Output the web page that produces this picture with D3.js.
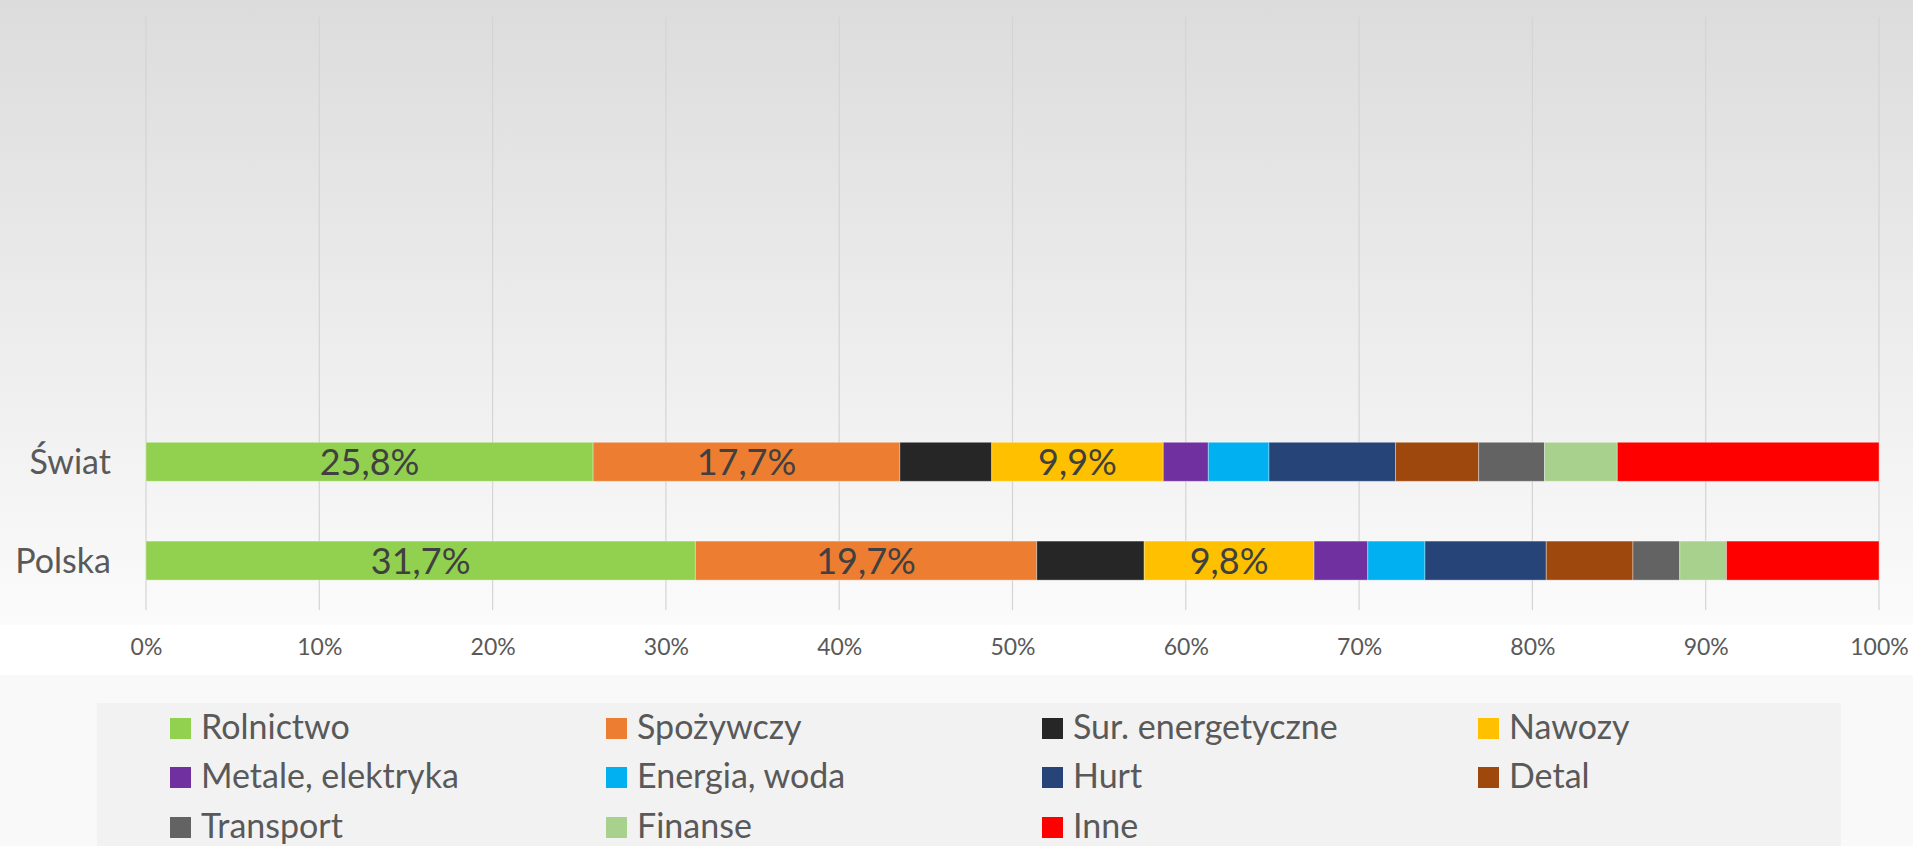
<!DOCTYPE html>
<html>
<head>
<meta charset="utf-8">
<script src="https://cdn.jsdelivr.net/npm/d3@7"></script>
<style>
    html, body { margin: 0; padding: 0; background: #ffffff; }
    svg { display: block; font-family: Lato, "Open Sans", sans-serif; }
</style>
</head>
<body>
<svg id="chart" width="1913" height="846"></svg>
<script>
// chart data
var categories = ["Świat", "Polska"];
var seriesNames = ["Rolnictwo", "Spożywczy", "Sur. energetyczne", "Nawozy", "Metale, elektryka",
    "Energia, woda", "Hurt", "Detal", "Transport", "Finanse", "Inne"];
var seriesColors = ["#92D050", "#ED7D31", "#262626", "#FFC000", "#7030A0",
    "#00B0F0", "#264478", "#9E480E", "#636363", "#A9D18E", "#FF0000"];
var swiatValues = [25.8, 17.7, 5.3, 9.9, 2.6, 3.5, 7.3, 4.8, 3.8, 4.2, 15.1];
var polskaValues = [31.7, 19.7, 6.2, 9.8, 3.1, 3.3, 7.0, 5.0, 2.7, 2.7, 8.8];
var labeledSeries = ["Rolnictwo", "Spożywczy", "Nawozy"];
var xTicks = [0, 10, 20, 30, 40, 50, 60, 70, 80, 90, 100];

var setting = {
    plotLeft: 146, plotRight: 1879,
    plotTop: 17, plotBottom: 610,
    slot: 98.8,
    legendX: 97, legendY: 703, legendW: 1744,
    legendCols: [170, 606, 1042, 1478], legendRows: [739, 788, 838]
};

var plFormat = d3.formatLocale({decimal: ",", thousands: " ", grouping: [3], currency: ["", " zł"]}).format(".1f");

var svg = d3.select("#chart");
var defs = svg.append("defs");

/***
 * Background: grey gradient behind the chart, grainy slide below
 */
function drawBackground() {
    var grad = defs.append("linearGradient")
        .attr("id", "bgGrad")
        .attr("x1", 0).attr("y1", 0).attr("x2", 0).attr("y2", 1);
    grad.append("stop").attr("offset", "0%").attr("stop-color", "#dcdcdc");
    grad.append("stop").attr("offset", "100%").attr("stop-color", "#fbfbfb");

    var noise = defs.append("filter").attr("id", "grain")
        .attr("x", 0).attr("y", 0).attr("width", 1).attr("height", 1);
    noise.append("feTurbulence").attr("type", "fractalNoise")
        .attr("baseFrequency", 0.9).attr("numOctaves", 2).attr("result", "n");
    noise.append("feColorMatrix").attr("in", "n").attr("type", "matrix")
        .attr("values", "0 0 0 0 0.9  0 0 0 0 0.9  0 0 0 0 0.9  0 0 0 0.05 0");
    noise.append("feComposite").attr("in2", "SourceGraphic").attr("operator", "over");

    svg.append("rect").attr("x", 0).attr("y", 675).attr("width", 1913).attr("height", 171)
        .attr("fill", "#f9f9f9").attr("filter", "url(#grain)");
    svg.append("rect").attr("x", 0).attr("y", 0).attr("width", 1913).attr("height", 625)
        .attr("fill", "url(#bgGrad)");
}

drawBackground();

var x = d3.scaleLinear()
    .domain([0, 100])
    .range([setting.plotLeft, setting.plotRight]);

// Excel left empty rows above the two bars, so the band only covers the bottom two slots
var y = d3.scaleBand()
    .domain(categories)
    .range([setting.plotBottom - 2 * setting.slot, setting.plotBottom])
    .paddingInner(0.605)
    .paddingOuter(0.3025);

// gridlines
svg.append("g")
    .selectAll("line")
    .data(xTicks)
    .enter()
    .append("line")
    .attr("x1", function (d) { return x(d); })
    .attr("x2", function (d) { return x(d); })
    .attr("y1", setting.plotTop)
    .attr("y2", setting.plotBottom)
    .attr("stroke", "#d4d4d4")
    .attr("stroke-width", 1.2);

// x axis labels
var xAxis = d3.axisBottom(x)
    .tickValues(xTicks)
    .tickSize(0)
    .tickPadding(0)
    .tickFormat(function (d) { return d + "%"; });

var gx = svg.append("g")
    .attr("transform", "translate(0," + 655 + ")")
    .call(xAxis);
gx.select(".domain").remove();
gx.selectAll("text")
    .attr("dy", null)
    .attr("y", 0)
    .attr("fill", "#595959")
    .style("font-family", "Lato, 'Open Sans', sans-serif")
    .style("font-size", "23px");

// category labels
svg.append("g")
    .selectAll("text")
    .data(categories)
    .enter()
    .append("text")
    .attr("x", 111)
    .attr("y", function (d) { return y(d) + y.bandwidth() / 2 + 12; })
    .attr("text-anchor", "end")
    .attr("fill", "#595959")
    .style("font-size", "34px")
    .text(function (d) { return d; });

/***
 * Build the stacked structure from the value arrays
 */
var rows = categories.map(function (c, i) {
    var row = {category: c};
    var vals = i === 0 ? swiatValues : polskaValues;
    seriesNames.forEach(function (s, j) { row[s] = vals[j]; });
    return row;
});

var stacked = d3.stack().keys(seriesNames)(rows);

var layers = svg.append("g")
    .selectAll("g")
    .data(stacked)
    .enter()
    .append("g")
    .attr("fill", function (d, i) { return seriesColors[i]; });

layers.selectAll("rect")
    .data(function (d) { return d; })
    .enter()
    .append("rect")
    .attr("x", function (d) { return x(d[0]); })
    .attr("y", function (d) { return y(d.data.category); })
    .attr("width", function (d) { return x(d[1]) - x(d[0]); })
    .attr("height", y.bandwidth())
    .attr("stroke", "#ffffff")
    .attr("stroke-opacity", 0.35)
    .attr("stroke-width", 1);

// data labels, only for the three big series
layers.filter(function (d) { return labeledSeries.indexOf(d.key) >= 0; })
    .selectAll("text")
    .data(function (d) { return d; })
    .enter()
    .append("text")
    .attr("x", function (d) { return (x(d[0]) + x(d[1])) / 2; })
    .attr("y", function (d) { return y(d.data.category) + y.bandwidth() / 2 + 13; })
    .attr("text-anchor", "middle")
    .attr("fill", "#404040")
    .style("font-size", "36px")
    .text(function (d) { return plFormat(d[1] - d[0]) + "%"; });

/***
 * Legend box, 4 columns, filled row by row
 */
function drawLegend() {
    svg.append("rect")
        .attr("x", setting.legendX)
        .attr("y", setting.legendY)
        .attr("width", setting.legendW)
        .attr("height", 846 - setting.legendY + 5)
        .attr("fill", "#f2f2f2");

    var items = svg.append("g")
        .selectAll("g")
        .data(seriesNames)
        .enter()
        .append("g")
        .attr("transform", function (d, i) {
            var col = setting.legendCols[i % 4],
                row = setting.legendRows[Math.floor(i / 4)];
            return "translate(" + col + "," + row + ")";
        });

    items.append("rect")
        .attr("x", 0)
        .attr("y", -21)
        .attr("width", 21)
        .attr("height", 21)
        .attr("fill", function (d, i) { return seriesColors[i]; });

    items.append("text")
        .attr("x", 31)
        .attr("y", 0)
        .attr("fill", "#595959")
        .style("font-size", "34px")
        .text(function (d) { return d; });
}

drawLegend();
</script>
</body>
</html>
